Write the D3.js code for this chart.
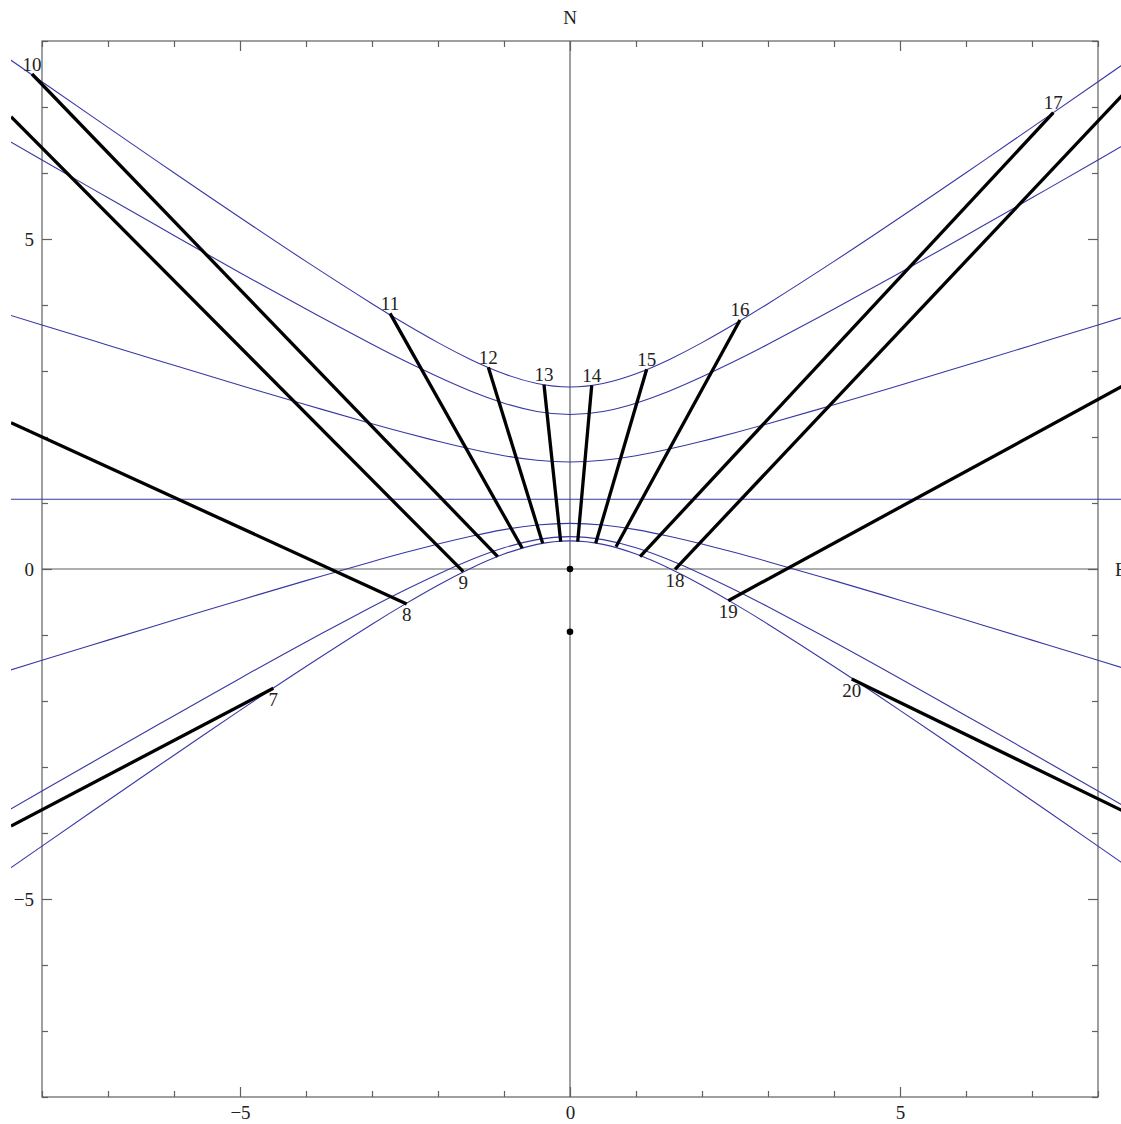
<!DOCTYPE html>
<html>
<head>
<meta charset="utf-8">
<script src="https://cdn.jsdelivr.net/npm/d3@7"></script>
<style>
  html, body { margin: 0; padding: 0; background: #fff; overflow: hidden; }
  svg { display: block; }
</style>
</head>
<body>
<svg id="chart" width="1121" height="1124"></svg>
<script>
// ---- data -------------------------------------------------------------
// sample abscissas shared by the declination curves
const curveX = [-8.6, -8, -7, -6, -5, -4, -3, -2.5, -2, -1.5, -1, -0.5, 0,
                 0.5, 1, 1.5, 2, 2.5, 3, 4, 5, 6, 7, 8, 8.6];
// shadow-tip paths, from the winter solstice down to the summer solstice
const winterSolstice = [7.799, 7.383, 6.691, 6.004, 5.326, 4.661, 4.020, 3.716, 3.430, 3.172, 2.958, 2.811, 2.758,
                        2.811, 2.958, 3.172, 3.430, 3.716, 4.020, 4.661, 5.326, 6.004, 6.691, 7.383, 7.799];
const janNov = [6.543, 6.197, 5.624, 5.054, 4.490, 3.938, 3.404, 3.150, 2.911, 2.693, 2.512, 2.387, 2.342,
                2.387, 2.512, 2.693, 2.911, 3.150, 3.404, 3.938, 4.490, 5.054, 5.624, 6.197, 6.543];
const febOct = [3.881, 3.697, 3.391, 3.086, 2.785, 2.489, 2.202, 2.065, 1.935, 1.817, 1.717, 1.647, 1.622,
                1.647, 1.717, 1.817, 1.935, 2.065, 2.202, 2.489, 2.785, 3.086, 3.391, 3.697, 3.881];
const equinoxX = [-8.6, 8.6];
const equinox = [1.056, 1.056];
const aprAug = [-1.568, -1.384, -1.078, -0.774, -0.472, -0.176, 0.111, 0.249, 0.379, 0.497, 0.597, 0.666, 0.692,
                0.666, 0.597, 0.497, 0.379, 0.249, 0.111, -0.176, -0.472, -0.774, -1.078, -1.384, -1.568];
const mayJul = [-3.711, -3.365, -2.791, -2.222, -1.658, -1.105, -0.572, -0.317, -0.078, 0.139, 0.321, 0.445, 0.491,
                0.445, 0.321, 0.139, -0.078, -0.317, -0.572, -1.105, -1.658, -2.222, -2.791, -3.365, -3.711];
const summerSolstice = [-4.616, -4.199, -3.507, -2.821, -2.142, -1.477, -0.836, -0.532, -0.246, 0.012, 0.226, 0.373, 0.426,
                        0.373, 0.226, 0.012, -0.246, -0.532, -0.836, -1.477, -2.142, -2.821, -3.507, -4.199, -4.616];

// hour lines: labelled end (tip) and opposite end (base)
const hours = [7, 8, 9, 10, 11, 12, 13, 14, 15, 16, 17, 18, 19, 20];
const tipX  = [-4.495, -2.474, -1.617, -8.152, -2.727, -1.238, -0.394, 0.329, 1.162, 2.576, 7.323, 1.591, 2.398, 4.268];
const tipY  = [-1.808, -0.530, -0.041, 7.500, 3.874, 3.056, 2.792, 2.783, 3.026, 3.773, 6.914, -0.005, -0.480, -1.667];
const baseX = [-8.47, -8.47, -8.47, -1.095, -0.723, -0.414, -0.141, 0.117, 0.389, 0.697, 1.061, 8.47, 8.47, 8.47];
const baseY = [-3.894, 2.217, 6.853, 0.186, 0.314, 0.389, 0.414, 0.414, 0.389, 0.338, 0.186, 7.285, 2.824, -3.711];

// gnomon foot and pole point
const markX = [0, 0];
const markY = [0, -0.95];

// axis ticks
const majorTicks = [-5, 0, 5];
const minorTicks = [-8, -7, -6, -4, -3, -2, -1, 1, 2, 3, 4, 6, 7, 8];

// ---- drawing ----------------------------------------------------------
const svg = d3.select("#chart");
const FONT = "'Liberation Serif', 'Times New Roman', serif";
const FS = 19;
const frameColor = "#606060";

const x = d3.scaleLinear().domain([-8, 8]).range([42, 1098]);
const y = d3.scaleLinear().domain([-8, 8]).range([1097, 41]);

svg.append("defs").append("clipPath").attr("id", "clip")
  .append("rect")
  .attr("x", x(-8.47)).attr("y", 0)
  .attr("width", x(8.47) - x(-8.47)).attr("height", 1124);

// frame
svg.append("rect")
  .attr("x", x(-8)).attr("y", y(8))
  .attr("width", x(8) - x(-8)).attr("height", y(-8) - y(8))
  .attr("fill", "none").attr("stroke", frameColor).attr("stroke-width", 1.2);

// axes through the origin
svg.append("line").attr("x1", x(-8)).attr("x2", x(8)).attr("y1", y(0)).attr("y2", y(0))
  .attr("stroke", frameColor).attr("stroke-width", 1.2);
svg.append("line").attr("x1", x(0)).attr("x2", x(0)).attr("y1", y(8)).attr("y2", y(-8))
  .attr("stroke", frameColor).attr("stroke-width", 1.2);

// frame ticks (inward) using d3 axes
function frameAxis(gen, transform, values, size, labels, pad) {
  const g = svg.append("g").attr("transform", transform)
    .call(gen.tickValues(values).tickSizeInner(-size).tickSizeOuter(0)
      .tickPadding(pad || 3).tickFormat(labels ? d3.format("d") : ""));
  g.select(".domain").remove();
  g.selectAll(".tick line").attr("stroke", frameColor).attr("stroke-width", 1.2);
  g.selectAll(".tick text").attr("font-family", FONT).attr("font-size", FS).attr("fill", "#222");
  return g;
}
frameAxis(d3.axisBottom(x), `translate(0,${y(-8)})`, majorTicks, 10, true, 9);
frameAxis(d3.axisBottom(x), `translate(0,${y(-8)})`, minorTicks, 6, false);
frameAxis(d3.axisTop(x), `translate(0,${y(8)})`, majorTicks, 10, false);
frameAxis(d3.axisTop(x), `translate(0,${y(8)})`, minorTicks, 6, false);
frameAxis(d3.axisLeft(y), `translate(${x(-8)},0)`, majorTicks, 10, true, 8);
frameAxis(d3.axisLeft(y), `translate(${x(-8)},0)`, minorTicks, 6, false);
frameAxis(d3.axisRight(y), `translate(${x(8)},0)`, majorTicks, 10, false);
frameAxis(d3.axisRight(y), `translate(${x(8)},0)`, minorTicks, 6, false);

// compass labels
svg.append("text").attr("x", x(0)).attr("y", 24).attr("text-anchor", "middle")
  .attr("font-family", FONT).attr("font-size", FS).attr("fill", "#222").text("N");
svg.append("text").attr("x", 1115).attr("y", y(0) + 6.5).attr("text-anchor", "start")
  .attr("font-family", FONT).attr("font-size", FS).attr("fill", "#222").text("E");

const plot = svg.append("g").attr("clip-path", "url(#clip)");

// declination curves
const curveLine = d3.line().x(d => x(d[0])).y(d => y(d[1])).curve(d3.curveNatural);
const curves = [winterSolstice, janNov, febOct, aprAug, mayJul, summerSolstice];
curves.forEach(vals => {
  plot.append("path")
    .attr("d", curveLine(curveX.map((cx, i) => [cx, vals[i]])))
    .attr("fill", "none").attr("stroke", "#3838a4").attr("stroke-width", 1.1);
});
plot.append("path")
  .attr("d", d3.line().x(d => x(d[0])).y(d => y(d[1]))(equinoxX.map((cx, i) => [cx, equinox[i]])))
  .attr("fill", "none").attr("stroke", "#3838a4").attr("stroke-width", 1.1);

// hour lines
const hourData = hours.map((h, i) => ({ h, tx: tipX[i], ty: tipY[i], bx: baseX[i], by: baseY[i] }));
plot.selectAll("line.hour").data(hourData).join("line")
  .attr("class", "hour")
  .attr("x1", d => x(d.tx)).attr("y1", d => y(d.ty))
  .attr("x2", d => x(d.bx)).attr("y2", d => y(d.by))
  .attr("stroke", "#000").attr("stroke-width", 3.3);

// points
svg.selectAll("circle.mark").data(markX.map((mx, i) => [mx, markY[i]])).join("circle")
  .attr("class", "mark")
  .attr("cx", d => x(d[0])).attr("cy", d => y(d[1])).attr("r", 3.3).attr("fill", "#000");

// hour labels: midday tips above the line end, early/late ones below
const labelAbove = h => h >= 10 && h <= 17;
svg.selectAll("text.hour").data(hourData).join("text")
  .attr("class", "hour")
  .attr("x", d => x(d.tx))
  .attr("y", d => y(d.ty) + (labelAbove(d.h) ? -3.5 : 17.5))
  .attr("text-anchor", "middle")
  .attr("font-family", FONT).attr("font-size", FS).attr("fill", "#222")
  .text(d => d.h);
</script>
</body>
</html>
